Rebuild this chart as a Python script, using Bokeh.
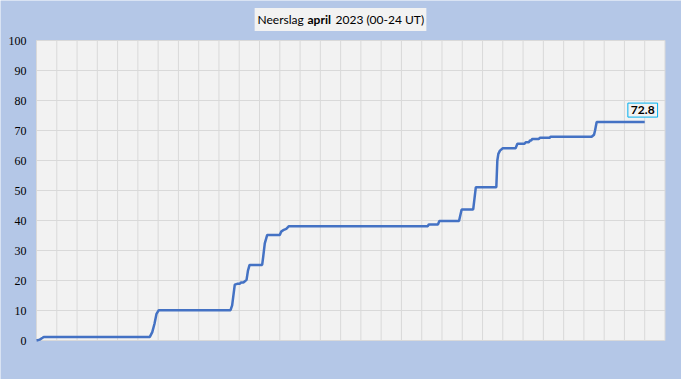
from bokeh.plotting import figure
from bokeh.models import Label, Range1d
from bokeh.embed import file_html
from bokeh.resources import INLINE

# day of month (0 = 1 April 00 UT) and cumulative precipitation (mm)
days = [0, 0.16, 0.3, 0.36, 5.59, 5.71, 5.82, 5.92, 6.03,
        9.57, 9.65, 9.78, 9.9, 10.03, 10.08, 10.2, 10.25, 10.36, 10.43, 10.51,
        11.13, 11.18, 11.26, 11.38, 12.0, 12.07, 12.2, 12.32, 12.45,
        19.3, 19.35, 19.8, 19.87, 20.84, 20.97, 21.54, 21.67,
        22.68, 22.73, 22.78, 22.86, 23.0, 23.63, 23.72, 24.07, 24.13,
        24.29, 24.34, 24.4, 24.46, 24.78, 24.83, 25.31, 25.36,
        27.38, 27.5, 27.55, 27.63, 30.0]
mm = [0, 0.3, 0.9, 1.2, 1.2, 2.8, 5.6, 8.9, 10.1,
      10.1, 11.7, 18.6, 18.9, 18.9, 19.3, 19.3, 19.6, 20.2, 23.3, 25.2,
      25.2, 27.8, 32.4, 35.2, 35.2, 36.3, 36.9, 37.2, 38.1,
      38.1, 38.7, 38.7, 39.8, 39.8, 43.7, 43.7, 51.1,
      51.1, 60.0, 62.2, 63.3, 64.1, 64.1, 65.6, 65.6, 66.1,
      66.1, 66.7, 66.7, 67.2, 67.2, 67.6, 67.6, 67.9,
      67.9, 68.6, 70.0, 72.8, 72.8]
total_label = "72.8"
y_ticks = [0, 10, 20, 30, 40, 50, 60, 70, 80, 90, 100]
y_tick_labels = [str(v) for v in y_ticks]
x_grid = list(range(0, 32))
title_parts = ["Neerslag", "april", "2023 (00-24 UT)"]

BLUE_BG = "#B4C7E7"
PLOT_BG = "#F2F2F2"
GRID = "#D9D9D9"
LINE = "#4472C4"
FONT = "Lato"

W, H = 681, 379
# plot area in pixels: left 36, right 664.5, top 40, bottom 340
PL, PR, PT, PB = 36.0, 664.5, 40.0, 340.0
xmin, xmax = x_grid[0], x_grid[-1]
ymin, ymax = y_ticks[0], y_ticks[-1]
px_x = (PR - PL) / (xmax - xmin)
px_y = (PB - PT) / (ymax - ymin)
x_range = Range1d(xmin - PL / px_x, xmax + (W - PR) / px_x)
y_range = Range1d(ymin - (H - PB) / px_y, ymax + PT / px_y)

p = figure(width=W, height=H, output_backend="svg", toolbar_location=None,
           x_range=x_range, y_range=y_range,
           min_border=0, background_fill_color=BLUE_BG, border_fill_color=BLUE_BG)
p.axis.visible = False
p.grid.visible = False
p.outline_line_color = None

# plot area
p.quad(left=[xmin], right=[xmax], bottom=[ymin], top=[ymax],
       fill_color=PLOT_BG, line_color=None)
# grid lines
p.segment(x0=x_grid, y0=[ymin] * len(x_grid), x1=x_grid, y1=[ymax] * len(x_grid),
          line_color=GRID, line_width=1)
p.segment(x0=[xmin] * len(y_ticks), y0=y_ticks, x1=[xmax] * len(y_ticks), y1=y_ticks,
          line_color=GRID, line_width=1)

# y tick labels
p.text(x=[xmin] * len(y_ticks), y=y_ticks, text=y_tick_labels, x_offset=-10,
       text_align="right", text_baseline="middle", text_font="Lato",
       text_font_size="12px", text_color="#000000")

p.line(days, mm, line_color=LINE, line_width=2.5)

lab = Label(x=days[-1], y=mm[-1], text=total_label, text_font=FONT,
            text_font_style="bold", text_font_size="12px", text_color="#000000",
            text_align="center", text_baseline="bottom", x_offset=-2, y_offset=5,
            background_fill_color=PLOT_BG, border_line_color="#00B0F0",
            border_line_width=1, padding=3)
p.add_layout(lab)

# title box (screen units: from bottom-left of the canvas)
TY = H - 19
box = Label(x=340, y=TY, x_units="screen", y_units="screen",
            text=" ".join(title_parts), text_font=FONT,
            text_font_size="12px", text_color=PLOT_BG, text_align="center",
            text_baseline="middle", background_fill_color=PLOT_BG, padding=4)
p.add_layout(box)
t1 = Label(x=257, y=TY, x_units="screen", y_units="screen", text=title_parts[0],
           text_font=FONT, text_font_size="12px", text_color="#000000",
           text_baseline="middle", text_align="left")
t2 = Label(x=307, y=TY, x_units="screen", y_units="screen", text=title_parts[1],
           text_font=FONT, text_font_size="12px", text_font_style="bold",
           text_color="#000000", text_baseline="middle", text_align="left")
t3 = Label(x=335, y=TY, x_units="screen", y_units="screen", text=title_parts[2],
           text_font=FONT, text_font_size="12px", text_color="#000000",
           text_baseline="middle", text_align="left")
for t in (t1, t2, t3):
    p.add_layout(t)

open("out.html", "w").write(file_html(p, INLINE))
